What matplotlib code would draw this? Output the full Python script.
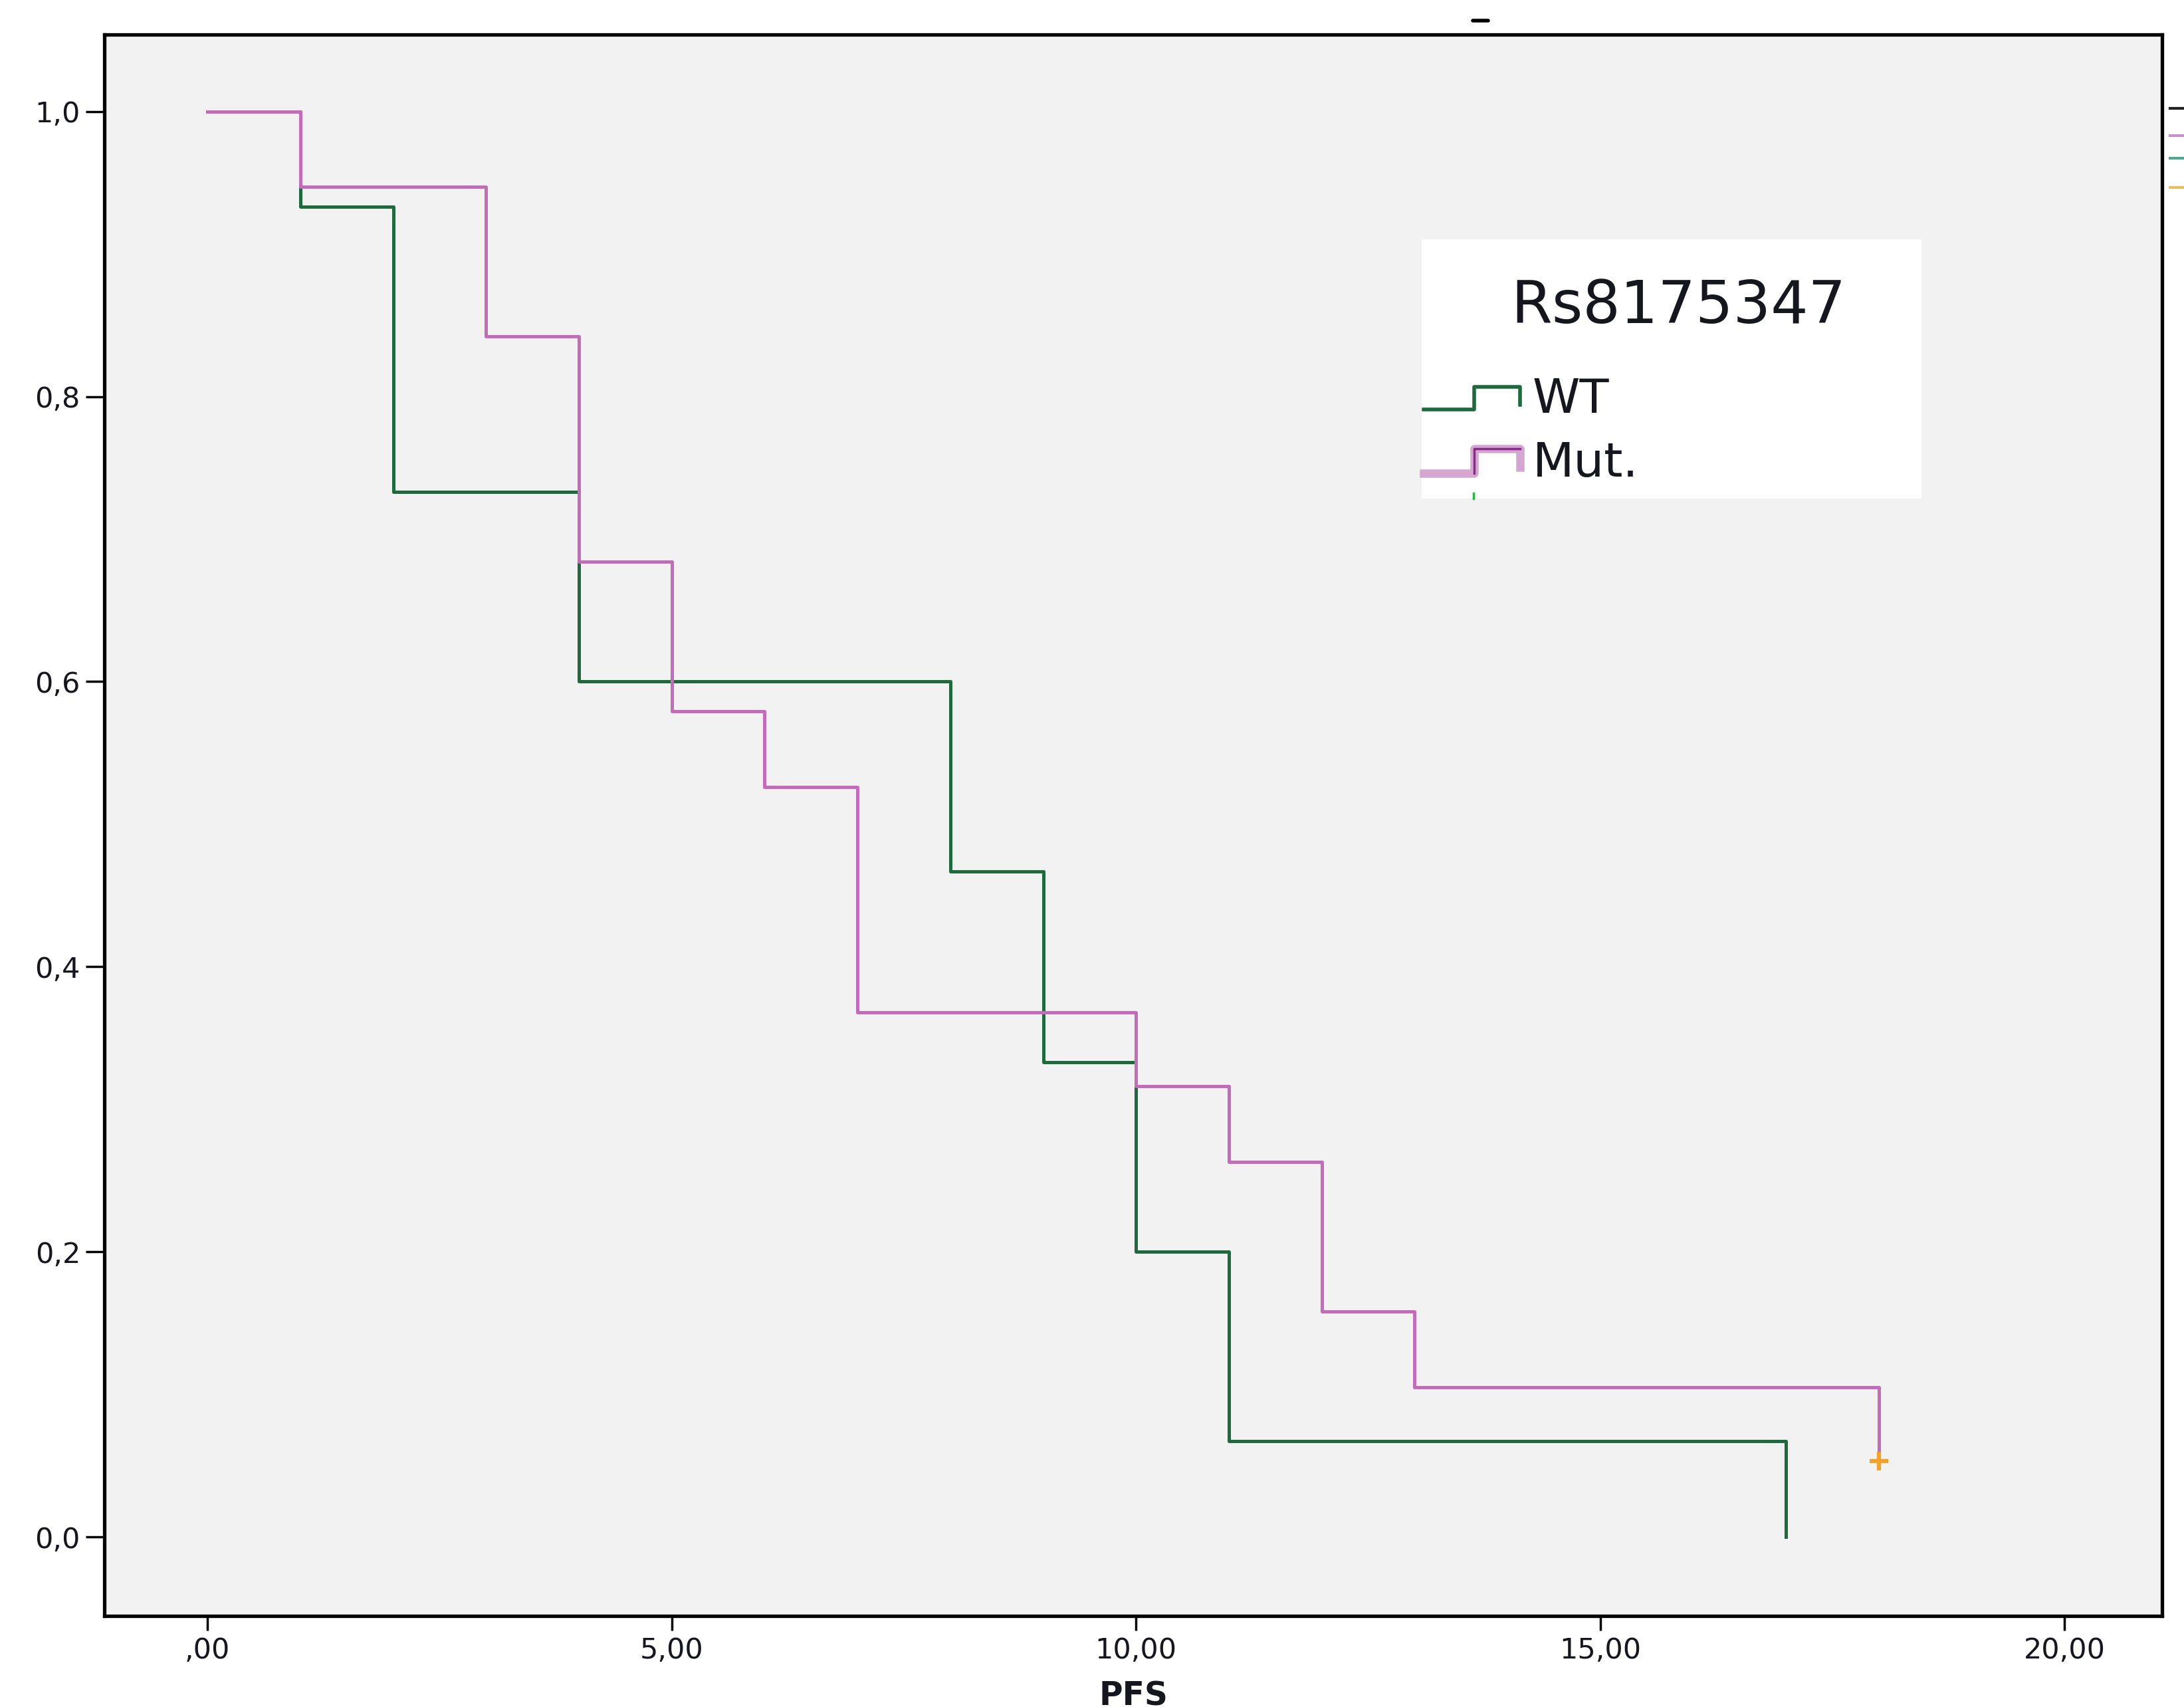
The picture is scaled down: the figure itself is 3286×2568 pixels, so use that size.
import matplotlib
matplotlib.use('Agg')
import matplotlib.pyplot as plt
from matplotlib.lines import Line2D
from matplotlib.patches import Rectangle

# ---- data ----
wt_times = [0, 1, 2, 4, 8, 9, 10, 11, 17]
wt_surv = [1.0, 0.933, 0.733, 0.600, 0.467, 0.333, 0.200, 0.067, 0.0]
mut_times = [0, 1, 3, 4, 5, 6, 7, 10, 11, 12, 13, 18]
mut_surv = [1.0, 0.947, 0.842, 0.684, 0.579, 0.526, 0.368, 0.316, 0.263, 0.158, 0.105, 0.053]
censor_times = [18]
censor_surv = [0.053]
xticks = [0, 5, 10, 15, 20]
xtick_labels = [',00', '5,00', '10,00', '15,00', '20,00']
yticks = [0.0, 0.2, 0.4, 0.6, 0.8, 1.0]
ytick_labels = ['0,0', '0,2', '0,4', '0,6', '0,8', '1,0']
legend_title = 'Rs8175347'
group_labels = ['WT', 'Mut.']
x_label = 'PFS'

# ---- style ----
wt_color = '#1f6a3c'
mut_color = '#c46cb9'
censor_color = '#f2a22a'
text_color = '#16161e'

fig = plt.figure(figsize=(32.86, 25.68), dpi=100)
fig.patch.set_facecolor('white')
ax = fig.add_axes([0.0478, 0.0533, 0.9422, 0.9265])
ax.set_facecolor('#f2f2f2')

ax.step(wt_times, wt_surv, where='post', color=wt_color, lw=3.6, zorder=3)
ax.step(mut_times, mut_surv, where='post', color=mut_color, lw=3.6, zorder=4)
ax.plot(censor_times, censor_surv, linestyle='none', marker='+', markersize=20,
        mew=4.5, color=censor_color, zorder=5)

ax.set_xlim(-1.11, 21.05)
ax.set_ylim(-0.0555, 1.054)
ax.set_xticks(xticks)
ax.set_xticklabels(xtick_labels)
ax.set_yticks(yticks)
ax.set_yticklabels(ytick_labels)
ax.tick_params(axis='both', direction='out', width=2.5, colors='black',
               labelsize=31, labelcolor=text_color)
ax.tick_params(axis='x', length=16, pad=6)
ax.tick_params(axis='y', length=20, pad=6)
for s in ax.spines.values():
    s.set_linewidth(3.8)
    s.set_color('black')

ax.set_xlabel(x_label, fontsize=35, fontweight='bold', color=text_color)
ax.xaxis.set_label_coords(0.5, -0.0405)

# ---- legend (custom, SPSS style) ----
ax.add_patch(Rectangle((0.640, 0.7066), 0.243, 0.1639, transform=ax.transAxes,
                       facecolor='white', edgecolor='none', zorder=6))
ax.text(0.765, 0.828, legend_title, transform=ax.transAxes, ha='center', va='center',
        fontsize=64, color=text_color, zorder=7)
# WT symbol
ax.add_line(Line2D([0.641, 0.6655, 0.6655, 0.688, 0.688], [0.763, 0.763, 0.777, 0.777, 0.766],
                   transform=ax.transAxes, color=wt_color, lw=4, zorder=7))
# Mut symbol
ax.add_line(Line2D([0.641, 0.6655, 0.6655, 0.688, 0.688], [0.7226, 0.7226, 0.738, 0.738, 0.7264],
                   transform=ax.transAxes, color='#d6a6d2', lw=9, zorder=7))
ax.add_line(Line2D([0.6655, 0.6655, 0.688], [0.7226, 0.738, 0.738],
                   transform=ax.transAxes, color='#8a2a8a', lw=2.5, zorder=8))
ax.text(0.694, 0.769, group_labels[0], transform=ax.transAxes, ha='left', va='center',
        fontsize=52, color=text_color, zorder=7)
ax.text(0.694, 0.7285, group_labels[1], transform=ax.transAxes, ha='left', va='center',
        fontsize=52, color=text_color, zorder=7)
ax.add_line(Line2D([0.6654, 0.6654], [0.7066, 0.7100], transform=ax.transAxes,
                   color='#22bb44', lw=2.5, zorder=8))

# ---- stray remnants outside the plot ----
for yy, cc in [(0.9365, '#222222'), (0.9206, '#c890c8'), (0.9073, '#50a890'), (0.890, '#e8c060')]:
    fig.add_artist(Line2D([0.9935, 1.0], [yy, yy], transform=fig.transFigure, color=cc, lw=3))
fig.add_artist(Line2D([0.6745, 0.6815], [0.988, 0.988], transform=fig.transFigure,
                      color='black', lw=4, solid_capstyle='round'))

fig.savefig('out.png', dpi=100, facecolor='white')
